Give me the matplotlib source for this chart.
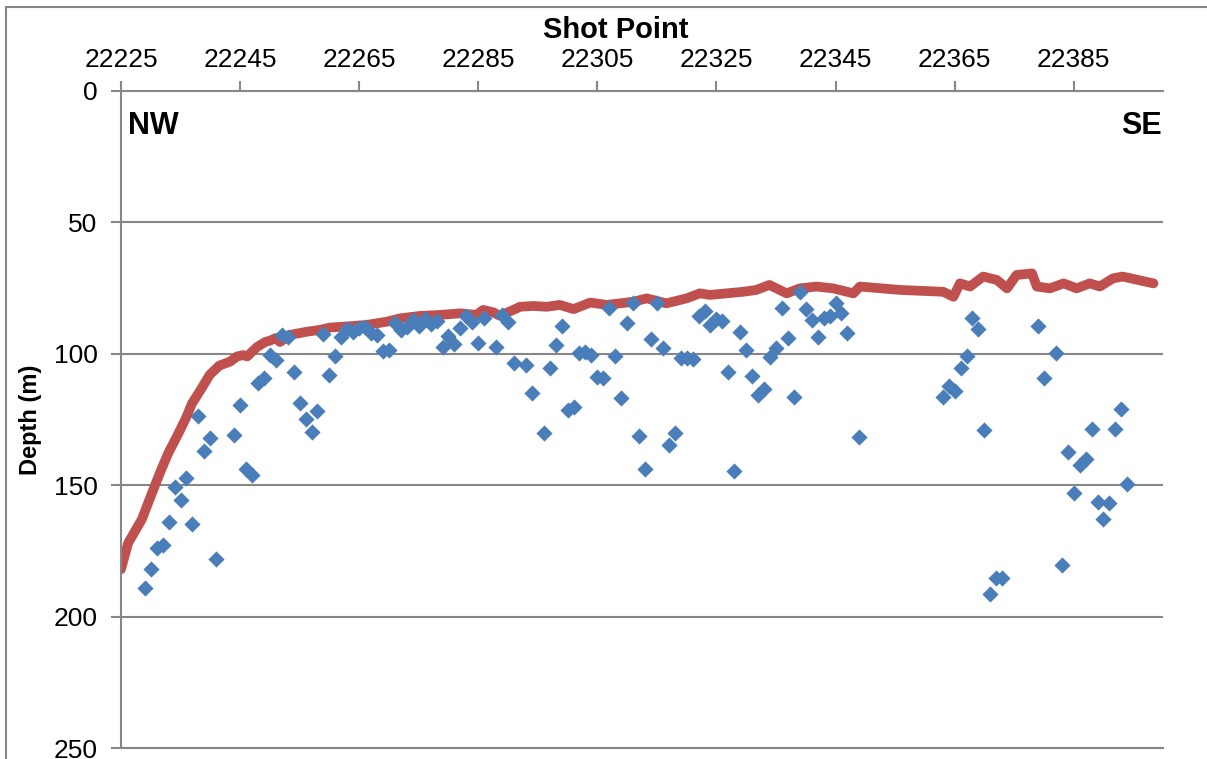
import matplotlib.pyplot as plt
from matplotlib.patches import Rectangle

plt.rcParams['font.family'] = ['Liberation Sans', 'DejaVu Sans']

# --- DATA ---
# picked depths (m) per shot point
shot_pts = [22229, 22230, 22231, 22232, 22233, 22234, 22235, 22236, 22237, 22238,
            22239, 22240, 22241, 22244, 22245, 22246, 22247, 22248, 22249, 22250,
            22251, 22252, 22253, 22254, 22255, 22256, 22257, 22258, 22259, 22260,
            22261, 22262, 22263, 22264, 22265, 22266, 22267, 22268, 22269, 22270,
            22271, 22272, 22273, 22274, 22275, 22276, 22277, 22278, 22279, 22280,
            22281, 22282, 22283, 22284, 22285, 22286, 22288, 22289, 22290, 22291,
            22293, 22294, 22296, 22297, 22298, 22299, 22300, 22301, 22302, 22303,
            22304, 22305, 22306, 22307, 22308, 22309, 22310, 22311, 22312, 22313,
            22314, 22315, 22316, 22317, 22318, 22319, 22320, 22321, 22322, 22323,
            22324, 22325, 22326, 22327, 22328, 22329, 22330, 22331, 22332, 22333,
            22334, 22335, 22336, 22337, 22338, 22339, 22340, 22341, 22342, 22343,
            22344, 22345, 22346, 22347, 22349, 22363, 22364, 22365, 22366, 22367,
            22368, 22369, 22370, 22371, 22372, 22373, 22379, 22380, 22382, 22383,
            22384, 22385, 22386, 22387, 22388, 22389, 22390, 22391, 22392, 22393,
            22394]
depths = [189.2, 182.0, 174.0, 172.6, 163.9, 150.8, 155.6, 147.1, 164.9, 123.8,
          136.9, 131.9, 177.9, 131.0, 119.5, 143.8, 146.1, 111.3, 109.3, 100.5,
          102.2, 92.8, 93.5, 106.9, 118.6, 124.9, 129.6, 121.6, 92.5, 108.1,
          100.8, 93.7, 90.7, 91.6, 90.3, 89.7, 92.2, 92.8, 98.9, 98.6,
          88.2, 90.9, 89.7, 87.1, 89.4, 86.8, 88.8, 87.5, 97.3, 93.2,
          96.4, 90.3, 85.6, 87.8, 95.8, 86.5, 97.6, 85.2, 87.8, 103.4,
          104.3, 115.0, 130.0, 105.5, 96.7, 89.3, 121.4, 120.1, 99.6, 99.2,
          100.5, 108.7, 109.1, 82.7, 100.8, 116.9, 88.2, 80.8, 131.2, 144.0,
          94.4, 80.8, 97.9, 134.7, 130.0, 101.5, 101.7, 102.1, 85.6, 83.6,
          89.0, 86.9, 87.4, 107.0, 144.6, 91.8, 98.6, 108.3, 115.7, 113.5,
          101.1, 97.7, 82.7, 94.1, 116.3, 76.4, 83.1, 87.1, 93.5, 86.5,
          85.6, 80.8, 84.6, 92.2, 131.6, 116.3, 112.3, 114.0, 105.3, 100.8,
          86.3, 90.7, 129.0, 191.4, 185.2, 185.2, 89.4, 109.3, 99.6, 180.4,
          137.4, 153.1, 142.3, 140.1, 128.7, 156.3, 163.0, 156.6, 128.7, 121.0,
          149.5]

# seabed horizon
seabed_sp = [22225.0, 22226.2, 22228.5, 22230.2, 22231.5, 22232.9, 22234.6, 22236.0,
             22236.9, 22238.3, 22239.9, 22241.5, 22243.3, 22244.5, 22245.5, 22246.2,
             22247.8, 22249.2, 22250.0, 22251.0, 22251.7, 22253.4, 22256.2, 22258.4,
             22260.1, 22262.3, 22266.3, 22269.6, 22271.9, 22275.2, 22278.6, 22281.9,
             22284.7, 22285.8, 22287.5, 22288.6, 22290.9, 22292.0, 22294.2, 22296.5,
             22298.7, 22301.0, 22303.8, 22306.6, 22308.8, 22311.0, 22313.3, 22316.6,
             22320.0, 22322.2, 22323.9, 22326.7, 22329.5, 22331.7, 22333.9, 22336.8,
             22339.0, 22341.8, 22344.6, 22348.0, 22349.1, 22355.8, 22363.1, 22364.8,
             22365.9, 22367.6, 22369.8, 22372.1, 22373.8, 22375.4, 22378.0, 22378.8,
             22381.0, 22383.3, 22385.5, 22387.7, 22389.4, 22391.6, 22393.2, 22398.4]
seabed_depth = [182.0, 172.0, 163.0, 153.0, 145.5, 138.0, 130.5, 124.0,
                119.0, 114.0, 108.0, 104.5, 103.0, 101.0, 100.5, 101.0,
                97.5, 95.5, 95.0, 94.0, 95.5, 92.8, 91.6, 90.9,
                90.0, 89.7, 89.0, 87.8, 86.5, 85.6, 85.2, 84.6,
                85.2, 83.3, 84.2, 85.5, 83.3, 82.1, 81.8, 82.1,
                81.4, 83.0, 80.5, 81.4, 80.8, 80.2, 78.9, 80.8,
                78.9, 77.0, 77.6, 77.0, 76.4, 75.7, 73.8, 77.0,
                75.1, 74.4, 75.1, 77.0, 74.4, 75.7, 76.4, 78.3,
                73.2, 74.4, 70.6, 71.9, 75.1, 70.0, 69.4, 74.4,
                75.1, 73.2, 75.1, 73.2, 74.4, 71.3, 70.6, 73.2]

x_ticks = [22225, 22245, 22265, 22285, 22305, 22325, 22345, 22365, 22385]
y_ticks = [0, 50, 100, 150, 200, 250]

GRAY = '#878787'

fig = plt.figure(figsize=(12.07, 7.59), dpi=100)
ax = fig.add_axes([121 / 1207, 1 - 748 / 759, 1042 / 1207, 657 / 759])

ax.plot(seabed_sp, seabed_depth, color='#C0504D', lw=7, solid_capstyle='round',
        solid_joinstyle='round', zorder=2)
ax.scatter(shot_pts, depths, marker='D', s=68, color='#4A7EBB', linewidths=0, zorder=3)

ax.set_xlim(22225, 22400)
ax.set_ylim(250, 0)
ax.set_xticks(x_ticks)
ax.set_yticks(y_ticks)
ax.xaxis.tick_top()
ax.tick_params(axis='x', direction='out', length=7, width=1.5, color=GRAY,
               labelsize=19, pad=7)
ax.tick_params(axis='y', direction='out', length=7, width=1.5, color=GRAY,
               labelsize=19, pad=10)

ax.grid(axis='y', color=GRAY, lw=1.5)
ax.set_axisbelow(True)
for side in ['top', 'left', 'bottom']:
    ax.spines[side].set_color(GRAY)
    ax.spines[side].set_linewidth(1.5)
ax.spines['right'].set_visible(False)

ax.text(0.007, 0.935, 'NW', transform=ax.transAxes, fontsize=22,
        fontweight='bold', ha='left', va='baseline')
ax.text(0.999, 0.935, 'SE', transform=ax.transAxes, fontsize=22,
        fontweight='bold', ha='right', va='baseline')

fig.text(615.5 / 1207, 1 - 30 / 759, 'Shot Point', fontsize=21, fontweight='bold',
         ha='center', va='center')
fig.text(30 / 1207, 1 - 420 / 759, 'Depth (m)', fontsize=17, fontweight='bold',
         rotation=90, ha='center', va='center')

# chart area border
fig.add_artist(Rectangle((5.5 / 1207, -0.5), 1.5, 0.5 + 1 - 7 / 759,
                         transform=fig.transFigure, fill=False, ec=GRAY, lw=1.5))

fig.savefig('out.png', dpi=100)
